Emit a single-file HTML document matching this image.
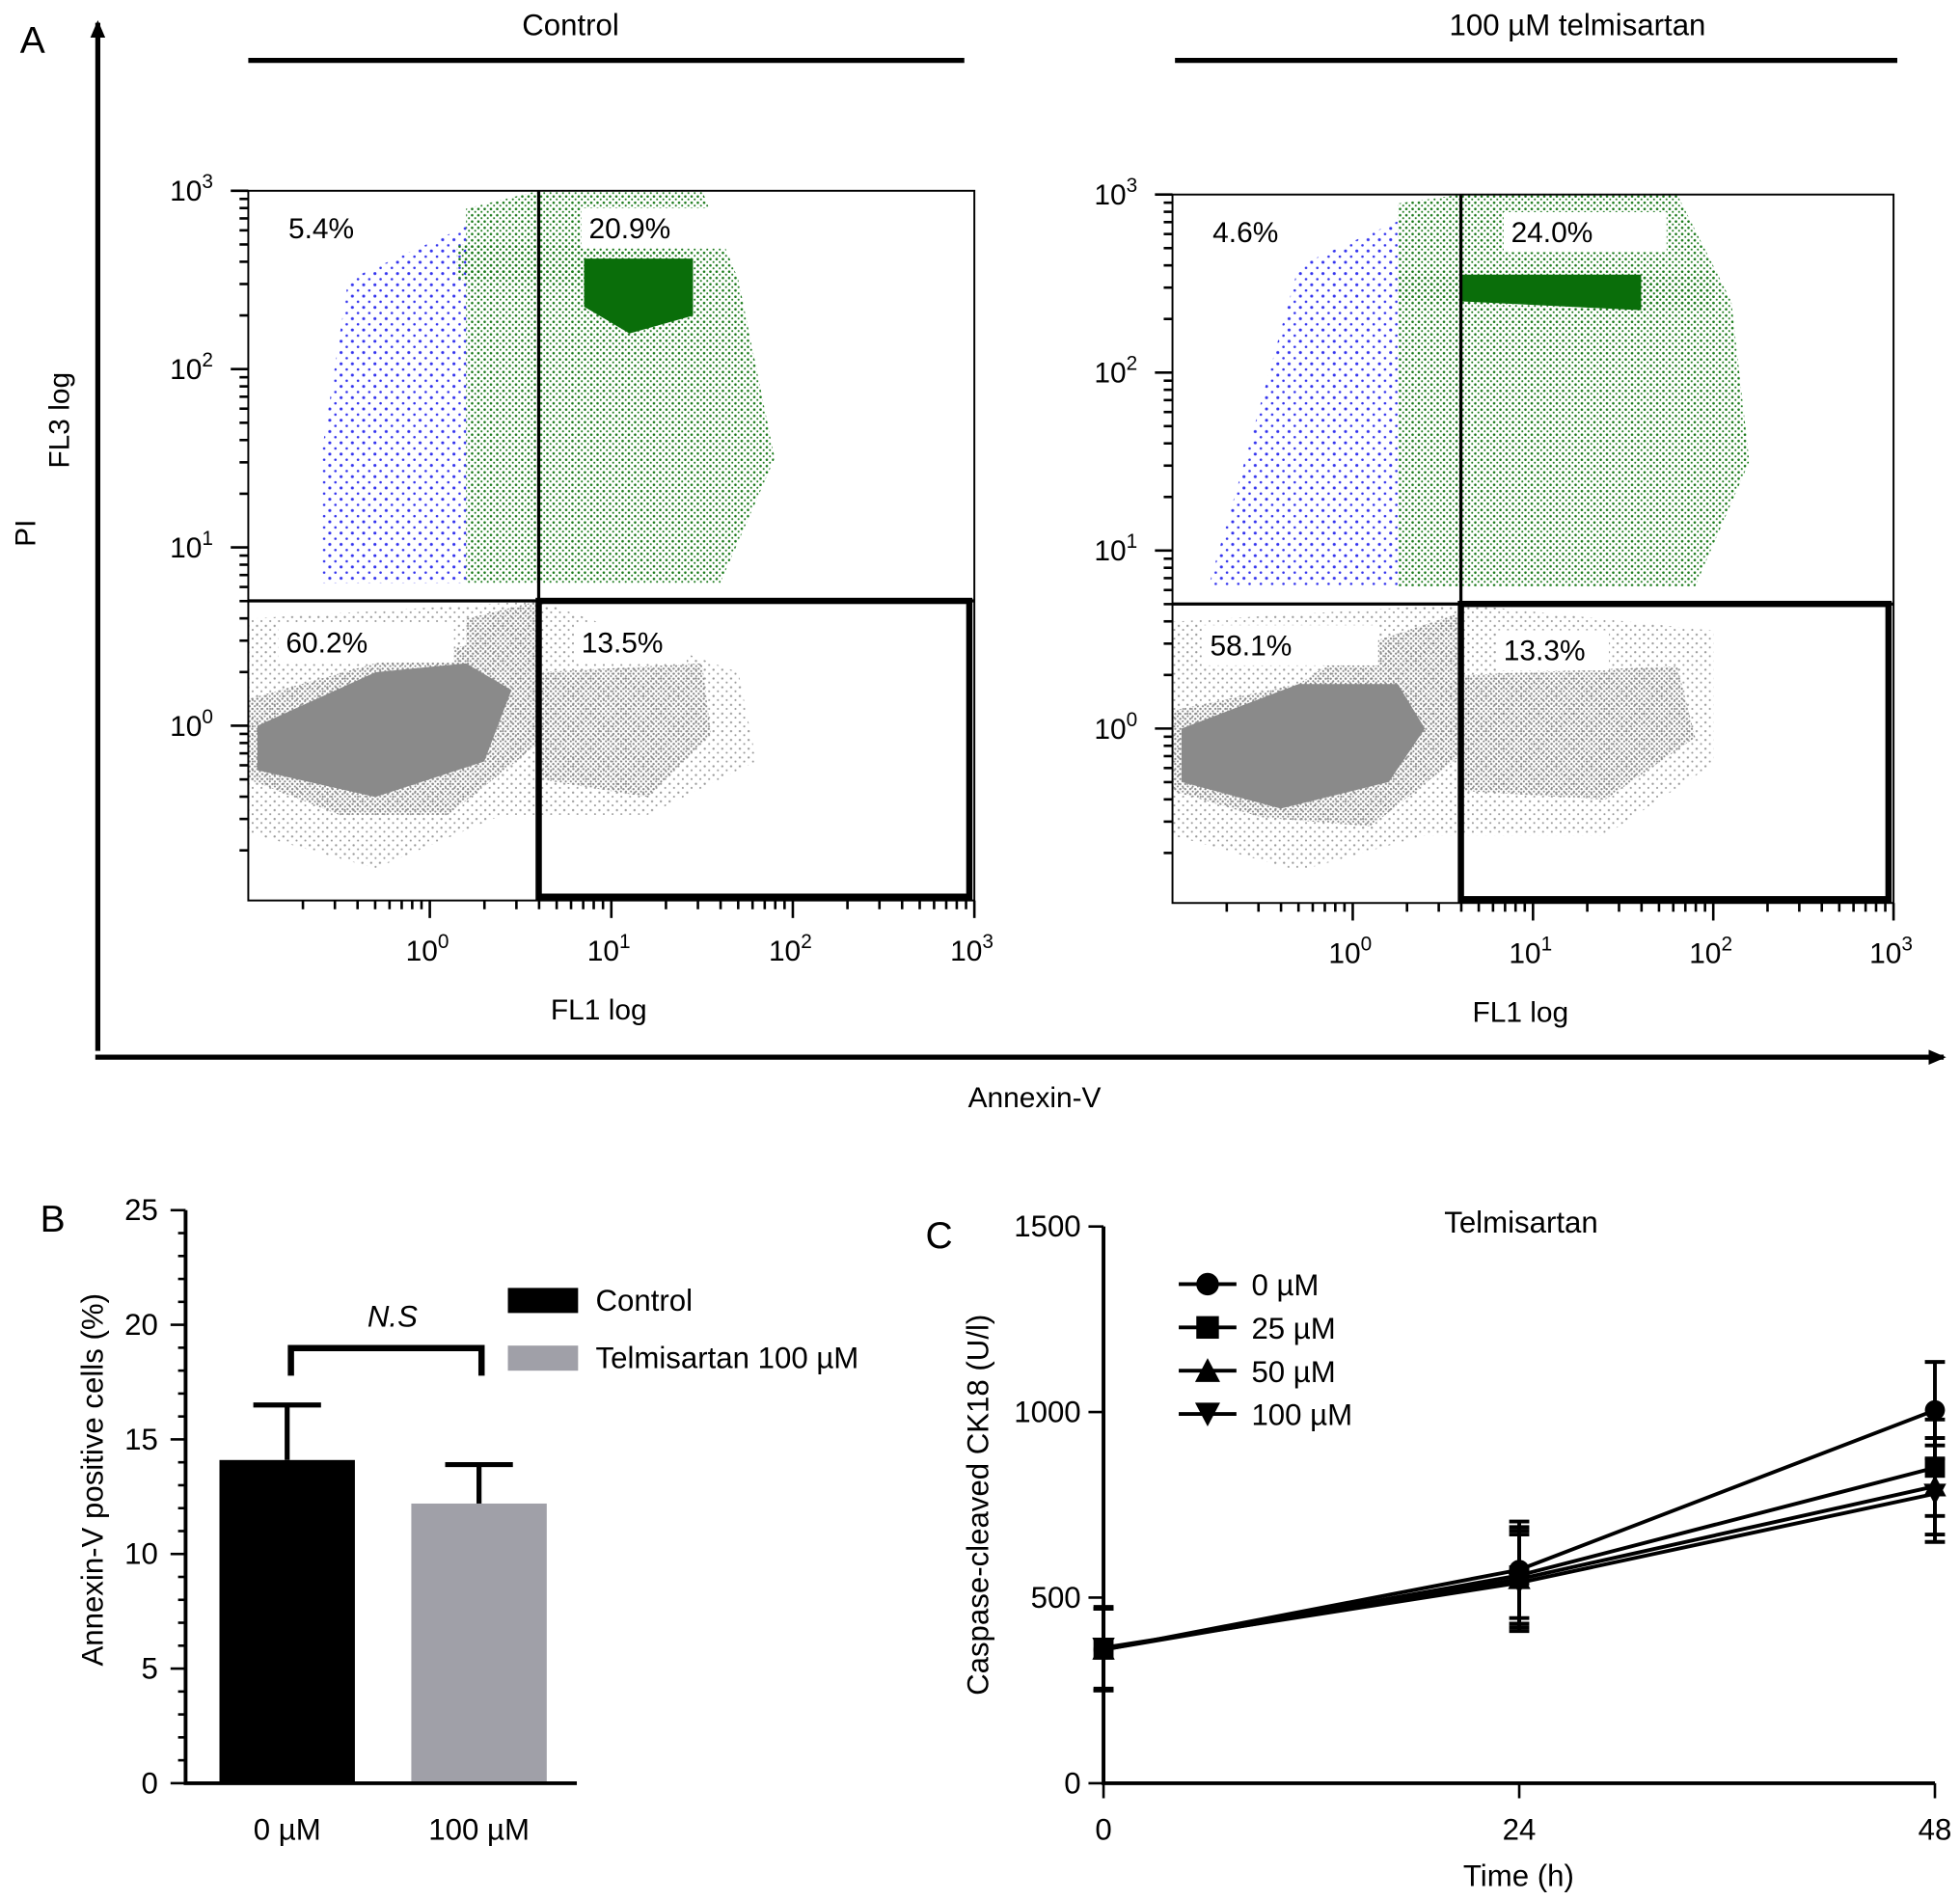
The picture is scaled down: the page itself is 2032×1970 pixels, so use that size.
<!DOCTYPE html>
<html><head><meta charset="utf-8"><style>
html,body{margin:0;padding:0;background:#fff;}
svg{display:block;font-family:"Liberation Sans",sans-serif;}
</style></head><body>
<svg id="fig" width="2032" height="1970" viewBox="0 0 1563 1515" xmlns="http://www.w3.org/2000/svg">
<defs>
<pattern id="gdots" width="5" height="5" patternUnits="userSpaceOnUse"><circle cx="1.5" cy="1.5" r="1" fill="#1a7a1a"/><circle cx="4" cy="3.8" r="0.8" fill="#1a7a1a"/></pattern>
<pattern id="bdots" width="9" height="9" patternUnits="userSpaceOnUse"><circle cx="2" cy="2" r="1.2" fill="#3333ee"/><circle cx="6.5" cy="6.5" r="1" fill="#3333ee"/></pattern>
<pattern id="grdots" width="4" height="4" patternUnits="userSpaceOnUse"><circle cx="1.2" cy="1.2" r="0.9" fill="#888"/><circle cx="3.2" cy="3.1" r="0.8" fill="#888"/></pattern>
<pattern id="grsparse" width="7" height="7" patternUnits="userSpaceOnUse"><circle cx="2" cy="2" r="0.9" fill="#999"/><circle cx="5.5" cy="5.2" r="0.8" fill="#999"/></pattern>
<marker id="arr" markerWidth="14" markerHeight="12" refX="12" refY="6" orient="auto" markerUnits="userSpaceOnUse"><path d="M0,0 L14,6 L0,12 z" fill="#000"/></marker>
</defs>

<text x="16" y="42" font-size="30">A</text>
<line x1="78" y1="838" x2="78" y2="18" stroke="#000" stroke-width="4" marker-end="url(#arr)"/>
<line x1="76" y1="843" x2="1550" y2="843" stroke="#000" stroke-width="4" marker-end="url(#arr)"/>
<text x="28" y="425" font-size="23" transform="rotate(-90 28 425)" text-anchor="middle">PI</text>
<text x="825" y="883" font-size="23" text-anchor="middle">Annexin-V</text>

<g id="flowL"></g>
<g id="flowR"></g>

<text x="32" y="982" font-size="30">B</text>
<g id="barChart"></g>

<text x="738" y="995" font-size="30">C</text>
<g id="lineChart"></g>
</svg>
<script>
const NS="http://www.w3.org/2000/svg";
function mk(p,tag,attrs,txt){const e=document.createElementNS(NS,tag);for(const k in attrs)e.setAttribute(k,attrs[k]);if(txt!==undefined)e.textContent=txt;p.appendChild(e);return e;}

const flowTitles=["Control","100 \u00b5M telmisartan"];
const flowQuadrants=[["5.4%","20.9%","60.2%","13.5%"],["4.6%","24.0%","58.1%","13.3%"]];
const flowDecades=["0","1","2","3"];
const flowGateX=[0.6,0.6];   // annexin gate (log10 units)
const flowGateY=[0.7,0.7];   // PI gate (log10 units)

function flowPlot(gid,idx,L,R,T,B,titleX,barL,barR){
  const g=document.getElementById(gid);
  const xmin=-1.0, ymin=-0.98;
  const sx=v=>L+(v-xmin)/(3-xmin)*(R-L);
  const sy=v=>B-(v-ymin)/(3-ymin)*(B-T);
  let t=mk(g,'text',{x:titleX,y:28,'font-size':24,'text-anchor':'middle'},flowTitles[idx]);
  
  
  let l=mk(g,'line',{x1:barL,y1:48,x2:barR,y2:48,stroke:'#000','stroke-width':4});
  
  
  const gx=sx(flowGateX[idx]), gy=sy(flowGateY[idx]);
  const c=mk(g,'g',{});
  
  
  const P=(pts,fill,op)=>mk(c,'path',{d:'M'+pts.map(p=>sx(p[0])+','+sy(p[1])).join(' L')+' Z',fill:fill,opacity:op||1});
  if(idx==0){
    // blue & green
    P([[-0.45,2.5],[0.2,2.8],[0.2,0.8],[-0.6,0.8],[-0.6,1.5]],'url(#bdots)');
    P([[0.2,2.9],[0.6,3],[1.5,3],[1.7,2.5],[1.9,1.5],[1.6,0.8],[0.2,0.8]],'url(#gdots)');
    P([[0.15,2.7],[1.4,2.7],[1.4,2.45],[0.15,2.5]],'url(#gdots)');
    P([[0.85,2.62],[1.45,2.62],[1.45,2.3],[1.1,2.2],[0.85,2.35]],'#0a6e0a');
    // gray
    P([[-1,0.6],[0.6,0.7],[1.7,0.3],[1.8,-0.2],[1.2,-0.5],[0.4,-0.5],[-0.3,-0.8],[-1,-0.6]],'url(#grsparse)');
    P([[-1,0.15],[-0.3,0.35],[0.2,0.45],[0.2,0.6],[0.6,0.7],[0.6,-0.1],[0.1,-0.5],[-0.5,-0.5],[-1,-0.3]],'url(#grdots)');
    P([[-0.95,0],[-0.3,0.3],[0.2,0.35],[0.45,0.2],[0.3,-0.2],[-0.3,-0.4],[-0.95,-0.25]],'#8a8a8a');
    P([[0.6,0.3],[1.5,0.35],[1.55,-0.05],[1.2,-0.4],[0.6,-0.3]],'url(#grdots)');
  } else {
    P([[-0.3,2.6],[0.25,2.85],[0.25,0.8],[-0.8,0.8],[-0.6,1.5]],'url(#bdots)');
    P([[0.25,2.95],[0.6,3],[1.8,3],[2.1,2.4],[2.2,1.5],[1.9,0.8],[0.25,0.8]],'url(#gdots)');
    P([[0.25,2.55],[2.0,2.55],[2.0,2.35],[0.25,2.4]],'url(#gdots)');
    P([[0.6,2.55],[1.6,2.55],[1.6,2.35],[0.6,2.4]],'#0a6e0a');
    P([[-1,0.6],[0.6,0.7],[2.0,0.55],[2.0,-0.2],[1.4,-0.6],[0.4,-0.6],[-0.3,-0.8],[-1,-0.6]],'url(#grsparse)');
    P([[-1,0.1],[-0.3,0.25],[0.0,0.45],[0.6,0.65],[0.6,-0.15],[0.1,-0.55],[-0.5,-0.5],[-1,-0.35]],'url(#grdots)');
    P([[-0.95,0],[-0.3,0.25],[0.25,0.25],[0.4,0.0],[0.2,-0.3],[-0.4,-0.45],[-0.95,-0.3]],'#8a8a8a');
    P([[0.6,0.3],[1.8,0.35],[1.9,-0.05],[1.4,-0.4],[0.6,-0.35]],'url(#grdots)');
  }
  let f=mk(g,'rect',{x:L,y:T,width:R-L,height:B-T,fill:'none',stroke:'#000','stroke-width':1.5});
  
  
  mk(g,'line',{x1:gx,y1:T,x2:gx,y2:B,stroke:'#000','stroke-width':2.5});
  mk(g,'line',{x1:L,y1:gy,x2:R,y2:gy,stroke:'#000','stroke-width':2.5});
  let q=mk(g,'rect',{x:gx,y:gy,width:R-gx-4,height:B-gy-3,fill:'none',stroke:'#000','stroke-width':5});
  
  
  const qs=flowQuadrants[idx];
  const pos=[[L+32,T+38],[gx+40,T+38],[L+30,gy+41],[gx+34,gy+41+idx*4]];
  pos.forEach((p,i)=>{
    mk(g,'rect',{x:p[0]-6,y:p[1]-24,width:i==2?140:i==1?130:90,height:32,fill:'#fff'});
    const tt=mk(g,'text',{x:p[0],y:p[1],'font-size':23},qs[i]);
    
    
  });
  for(let d=-1;d<=3;d++){
    for(let m=1;m<10;m++){
      const v=d+Math.log10(m); if(v<=xmin+0.05&&m!=1)continue; if(v<=xmin)continue;
      const len=m==1?14:7;
      mk(g,'line',{x1:sx(v),y1:B,x2:sx(v),y2:B+len,stroke:'#000','stroke-width':2});
      if(v>=ymin) mk(g,'line',{x1:L,y1:sy(v),x2:L-len,y2:sy(v),stroke:'#000','stroke-width':2});
      if(d==3)break;
    }
  }
  flowDecades.forEach((s,i)=>{
    const xt=mk(g,'text',{x:sx(i)-2,y:B+48,'font-size':23,'text-anchor':'middle'});
    
    
    mk(xt,'tspan',{},'10');mk(xt,'tspan',{dy:-10,'font-size':16},s);
    const yt=mk(g,'text',{x:L-28,y:sy(i)+8,'font-size':23,'text-anchor':'end'});
    
    
    mk(yt,'tspan',{},'10');mk(yt,'tspan',{dy:-10,'font-size':16},s);
  });
  const xl=mk(g,'text',{x:(L+R)/2-10,y:B+95,'font-size':23,'text-anchor':'middle'},'FL1 log');
  
  
  if(idx==0){
    const yl=mk(g,'text',{x:55,y:335,'font-size':23,'text-anchor':'middle',transform:'rotate(-90 55 335)'},'FL3 log');
    
    
  }
}
flowPlot('flowL',0,198,777,152,718,455,198,769);
flowPlot('flowR',1,935,1510,155,720,1258,937,1513);

const barCats=["0 \u00b5M","100 \u00b5M"];
const barVals=[14.1,12.2];
const barErr=[2.4,1.7];
const barYTicks=[0,5,10,15,20,25];
const barLegend=["Control","Telmisartan 100 \u00b5M"];
(function(){
  const g=document.getElementById('barChart');
  const X0=148,Y0=1422,H=457;
  const y=v=>Y0-v/25*H;
  const colors=['#000','#a0a0a8'];
  const cx=[229,382];
  barVals.forEach((v,i)=>{
    const top=y(v+barErr[i]);
    const el=mk(g,'line',{x1:cx[i],y1:y(v),x2:cx[i],y2:top,stroke:'#000','stroke-width':4});
    
    
    mk(g,'line',{x1:cx[i]-27,y1:top,x2:cx[i]+27,y2:top,stroke:'#000','stroke-width':4});
    const r=mk(g,'rect',{x:cx[i]-54,y:y(v),width:108,height:Y0-y(v),fill:colors[i]});
    
    
    const t=mk(g,'text',{x:cx[i],y:Y0+45,'font-size':24,'text-anchor':'middle'},barCats[i]);
    
    
  });
  const ax=mk(g,'path',{d:`M${X0},${y(25)} V${Y0} H460`,stroke:'#000','stroke-width':3,fill:'none'});
  
  
  for(let v=0;v<=25;v++){
    mk(g,'line',{x1:X0,y1:y(v),x2:X0-(v%5==0?12:6),y2:y(v),stroke:'#000','stroke-width':2});
  }
  barYTicks.forEach(v=>{
    const t=mk(g,'text',{x:X0-22,y:y(v)+8,'font-size':24,'text-anchor':'end'},String(v));
    
    
  });
  const yt=mk(g,'text',{x:82,y:1180,'font-size':24,'text-anchor':'middle',transform:'rotate(-90 82 1180)'},'Annexin-V positive cells (%)');
  
  
  const br=mk(g,'path',{d:'M232,1097 V1075 H384 V1097',stroke:'#000','stroke-width':5,fill:'none'});
  
  
  const ns=mk(g,'text',{x:313,y:1058,'font-size':24,'font-style':'italic','text-anchor':'middle'},'N.S');
  
  
  barLegend.forEach((s,i)=>{
    const r=mk(g,'rect',{x:405,y:1027+i*46,width:56,height:20,fill:colors[i]});
    
    
    const t=mk(g,'text',{x:475,y:1045+i*46,'font-size':24},s);
    
    
  });
})();

const lineTimes=[0,24,48];
const lineSeriesNames=["0 \u00b5M","25 \u00b5M","50 \u00b5M","100 \u00b5M"];
const s0=[360,575,1005];
const s25=[360,560,850];
const s50=[360,550,800];
const s100=[365,540,780];
const lineErr=[110,130,130];
const lineYTicks=[0,500,1000,1500];
(function(){
  const g=document.getElementById('lineChart');
  const X0=880,X1=1543,Y0=1422,Y1=978;
  const x=t=>X0+t/48*(X1-X0);
  const y=v=>Y0-v/1500*(Y0-Y1);
  const series=[s0,s25,s50,s100];
  const marker=(i,px,py,s)=>{
    let m;
    if(i==0)m=mk(g,'circle',{cx:px,cy:py,r:s});
    else if(i==1)m=mk(g,'rect',{x:px-s,y:py-s,width:2*s,height:2*s});
    else if(i==2)m=mk(g,'path',{d:`M${px},${py-s-1} L${px+s+1},${py+s} L${px-s-1},${py+s}z`});
    else m=mk(g,'path',{d:`M${px},${py+s+1} L${px+s+1},${py-s} L${px-s-1},${py-s}z`});
    m.setAttribute('fill','#000');
    return m;
  };
  series.forEach((sv,i)=>{
    const pl=mk(g,'polyline',{points:sv.map((v,j)=>x(lineTimes[j])+','+y(v)).join(' '),fill:'none',stroke:'#000','stroke-width':3});
    
    
    sv.forEach((v,j)=>{
      const px=x(lineTimes[j]),py=y(v);
      const e=lineErr[j];
      mk(g,'path',{d:`M${px},${y(v-e)} V${y(v+e)} M${px-8},${y(v+e)} H${px+8} M${px-8},${y(v-e)} H${px+8}`,stroke:'#000','stroke-width':3,fill:'none'});
      const m=marker(i,px,py,8);
      
      
    });
  });
  const ax=mk(g,'path',{d:`M${X0},${Y1} V${Y0} H${X1}`,stroke:'#000','stroke-width':3,fill:'none'});
  
  
  lineYTicks.forEach(v=>{
    mk(g,'line',{x1:X0,y1:y(v),x2:X0-12,y2:y(v),stroke:'#000','stroke-width':2});
    const t=mk(g,'text',{x:X0-18,y:y(v)+8,'font-size':24,'text-anchor':'end'},String(v));
    
    
  });
  lineTimes.forEach(tv=>{
    mk(g,'line',{x1:x(tv),y1:Y0,x2:x(tv),y2:Y0+12,stroke:'#000','stroke-width':2});
    const t=mk(g,'text',{x:x(tv),y:Y0+45,'font-size':24,'text-anchor':'middle'},String(tv));
    
    
  });
  const xt=mk(g,'text',{x:1211,y:1504,'font-size':24,'text-anchor':'middle'},'Time (h)');
  
  
  const yt=mk(g,'text',{x:788,y:1200,'font-size':24,'text-anchor':'middle',transform:'rotate(-90 788 1200)'},'Caspase-cleaved CK18 (U/l)');
  
  
  const tt=mk(g,'text',{x:1213,y:983,'font-size':24,'text-anchor':'middle'},'Telmisartan');
  
  
  lineSeriesNames.forEach((s,i)=>{
    const ly=1024+i*34.5;
    mk(g,'line',{x1:940,y1:ly,x2:986,y2:ly,stroke:'#000','stroke-width':3});
    marker(i,963,ly,9);
    const t=mk(g,'text',{x:998,y:ly+9,'font-size':24},s);
    
    
  });
})();
</script>
</body></html>
